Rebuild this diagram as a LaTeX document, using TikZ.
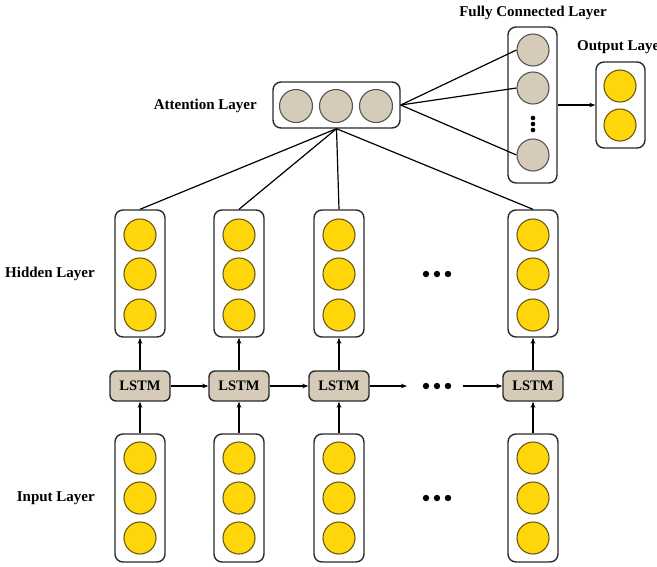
\documentclass[tikz,border=0pt]{standalone}
\usepackage{fontspec}
\setmainfont{Liberation Serif}
\usetikzlibrary{arrows.meta}
\definecolor{tanfill}{HTML}{D6CBB8}
\definecolor{yfill}{HTML}{FFD60A}
\definecolor{yedge}{HTML}{6B5A12}
\definecolor{edge}{HTML}{2A2A2A}
\tikzset{
  layerbox/.style={draw=edge, line width=1.4pt, rounded corners=8pt, fill=white, inner sep=0pt},
  ycirc/.style={circle, draw=yedge, line width=1.1pt, fill=yfill, minimum size=32pt, inner sep=0pt},
  tcirc/.style={circle, draw=edge!80, line width=1.1pt, fill=tanfill, minimum size=33pt, inner sep=0pt},
  lstmbox/.style={draw=edge, line width=1.4pt, rounded corners=6pt, fill=tanfill, minimum width=60pt, minimum height=30pt, inner sep=0pt, font=\bfseries\fontsize{14.5}{16}\selectfont},
  lab/.style={font=\bfseries\fontsize{15}{17}\selectfont, inner sep=0pt},
  conn/.style={draw=black, line width=1.2pt},
  arr/.style={conn, -{Stealth[length=6pt,width=4.5pt]}}
}
\begin{document}
\begin{tikzpicture}[x=1pt, y=-1pt]
\useasboundingbox (0,0) rectangle (657,566);
\clip (0,0) rectangle (657,566);

% hidden and input columns
\foreach \i/\x in {1/140, 2/239, 3/339, 4/533} {
  \node[layerbox, minimum width=50pt, minimum height=127pt] (h\i) at (\x,273.5) {};
  \node[layerbox, minimum width=50pt, minimum height=128pt] (in\i) at (\x,498) {};
  \foreach \j/\y in {1/235, 2/274, 3/315} {
    \node[ycirc] (h\i c\j) at (\x,\y) {};
  }
  \foreach \j/\y in {1/458, 2/498, 3/538} {
    \node[ycirc] (in\i c\j) at (\x,\y) {};
  }
  \node[lstmbox] (l\i) at (\x,386) {LSTM};
  \draw[arr] (l\i) -- (h\i);
  \draw[arr] (in\i) -- (l\i);
}

% recurrent links between LSTM cells
\draw[arr] (l1) -- (l2);
\draw[arr] (l2) -- (l3);
\coordinate (gapin) at (407,386);
\coordinate (gapout) at (463,386);
\draw[arr] (l3) -- (gapin);
\draw[arr] (gapout) -- (l4);

% ellipses between columns
\foreach \y in {274, 386, 498} {
  \foreach \dx in {-11, 0, 11} {
    \fill (437+\dx,\y) circle (3.2pt);
  }
}

% attention layer
\node[layerbox, minimum width=127pt, minimum height=46pt] (att) at (336.5,105) {};
\foreach \j/\x in {1/296, 2/336, 3/376} {
  \node[tcirc] (a\j) at (\x,106) {};
}
\node[lab, anchor=east] (attlab) at (257,106) {Attention Layer};
\foreach \i in {1,...,4} {
  \draw[conn] (att.south) -- (h\i.north);
}

% fully connected layer
\node[layerbox, minimum width=49pt, minimum height=156pt] (fc) at (532.5,105) {};
\foreach \j/\y in {1/50, 2/88, 3/155} {
  \node[tcirc, minimum size=32pt] (f\j) at (533,\y) {};
  \draw[conn] (att.east) -- (f\j.west);
}
\foreach \y in {118, 124, 130} {
  \fill (533,\y) circle (2.3pt);
}
\node[lab] (fclab) at (533,13) {Fully Connected Layer};

% output layer
\node[layerbox, minimum width=49pt, minimum height=86pt] (out) at (620.5,105) {};
\node[ycirc] (o1) at (620,86) {};
\node[ycirc] (o2) at (620,125) {};
\node[lab, anchor=west] (outlab) at (577,47) {Output Layer};
\draw[arr] (fc) -- (out);

% row labels
\node[lab, anchor=east] (hidlab) at (95,274) {Hidden Layer};
\node[lab, anchor=east] (inlab) at (95,498) {Input Layer};
\end{tikzpicture}
\end{document}
